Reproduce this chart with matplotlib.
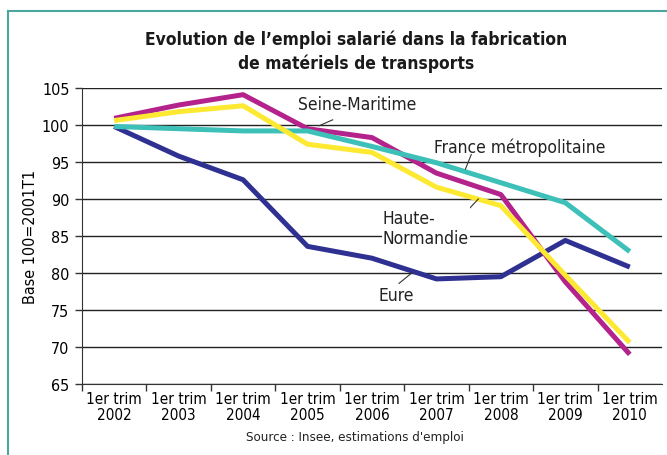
import matplotlib.pyplot as plt
from matplotlib.lines import Line2D

years = ['2002', '2003', '2004', '2005', '2006', '2007', '2008', '2009', '2010']
tick_labels = ['1er trim\n' + y for y in years]

eure = [99.8, 95.8, 92.6, 83.6, 82.0, 79.2, 79.5, 84.4, 80.8]
seine_maritime = [100.9, 102.7, 104.1, 99.5, 98.3, 93.5, 90.6, 78.8, 69.0]
haute_normandie = [100.6, 101.8, 102.6, 97.4, 96.3, 91.6, 89.1, 79.7, 70.6]
france_metro = [99.8, 99.5, 99.2, 99.2, 97.1, 94.9, 92.2, 89.5, 82.9]

plt.rcParams['font.family'] = ['DejaVu Sans']
plt.rcParams['font.stretch'] = 'condensed'

fig = plt.figure(figsize=(6.67, 4.56), dpi=100)
ax = fig.add_axes([0.1229, 0.1557, 0.8696, 0.6491])

x = list(range(len(years)))
lw = 3.6
ax.plot(x, eure, color='#2e3192', lw=lw, solid_capstyle='butt', zorder=3)
ax.plot(x, seine_maritime, color='#b4228c', lw=lw, solid_capstyle='butt', zorder=4)
ax.plot(x, france_metro, color='#3cc0b8', lw=lw, solid_capstyle='butt', zorder=5)
ax.plot(x, haute_normandie, color='#fde832', lw=lw, solid_capstyle='butt', zorder=6)

ax.set_xlim(-0.5, 8.5)
ax.set_ylim(65, 105)
ax.set_yticks(range(65, 106, 5))
ax.yaxis.grid(True, color='#222222', lw=1.0)
ax.set_axisbelow(True)

ax.set_xticks([i - 0.5 for i in range(9)])
ax.set_xticklabels([])
ax.set_xticks(x, minor=True)
ax.set_xticklabels(tick_labels, minor=True, fontsize=11, linespacing=1.05)
ax.tick_params(axis='x', which='minor', length=0, pad=5)
ax.tick_params(axis='x', which='major', length=5, width=1, color='#333333', direction='out')
ax.tick_params(axis='y', length=5, width=1, color='#333333', labelsize=11.5, pad=4)

for s in ['top', 'right']:
    ax.spines[s].set_visible(False)
ax.spines['left'].set_color('#333333')
ax.spines['bottom'].set_color('#333333')

ax.set_ylabel('Base 100=2001T1', fontsize=11.5, labelpad=3)

txt = dict(fontsize=12.5, color='#222222', zorder=8)
ax.text(3.77, 102.8, 'Seine-Maritime', ha='center', va='center', **txt)
ax.plot([3.39, 3.18], [100.7, 99.9], color='#333333', lw=0.8, zorder=7)
ax.text(6.29, 97.0, 'France métropolitaine', ha='center', va='center', **txt)
ax.plot([5.54, 5.45], [96.0, 94.05], color='#333333', lw=0.8, zorder=9)
ax.text(4.17, 86.1, 'Haute-\nNormandie', ha='left', va='center', linespacing=1.15,
        bbox=dict(facecolor='white', edgecolor='none', pad=1), **txt)
ax.plot([5.26, 5.65], [86.4, 90.0], color='#333333', lw=0.8, zorder=7)
ax.text(4.38, 77.0, 'Eure', ha='center', va='center', **txt)
ax.plot([4.42, 4.63], [78.6, 80.1], color='#333333', lw=0.8, zorder=7)

fig.text(0.534, 0.887, "Evolution de l\u2019emploi salarié dans la fabrication\nde matériels de transports",
         ha='center', va='center', fontsize=12.5, fontweight='heavy', linespacing=1.35, color='#1a1a1a')
fig.text(0.532, 0.040, "Source : Insee, estimations d'emploi", ha='center', va='center',
         fontsize=9.5, color='#222222')

border = '#4aa7a0'
fig.add_artist(Line2D([8 / 667, 1], [1 - 12 / 456] * 2, color=border, lw=1.5, transform=fig.transFigure))
fig.add_artist(Line2D([8 / 667] * 2, [0, 1 - 12 / 456], color=border, lw=1.5, transform=fig.transFigure))

fig.savefig('out.png', dpi=100)
